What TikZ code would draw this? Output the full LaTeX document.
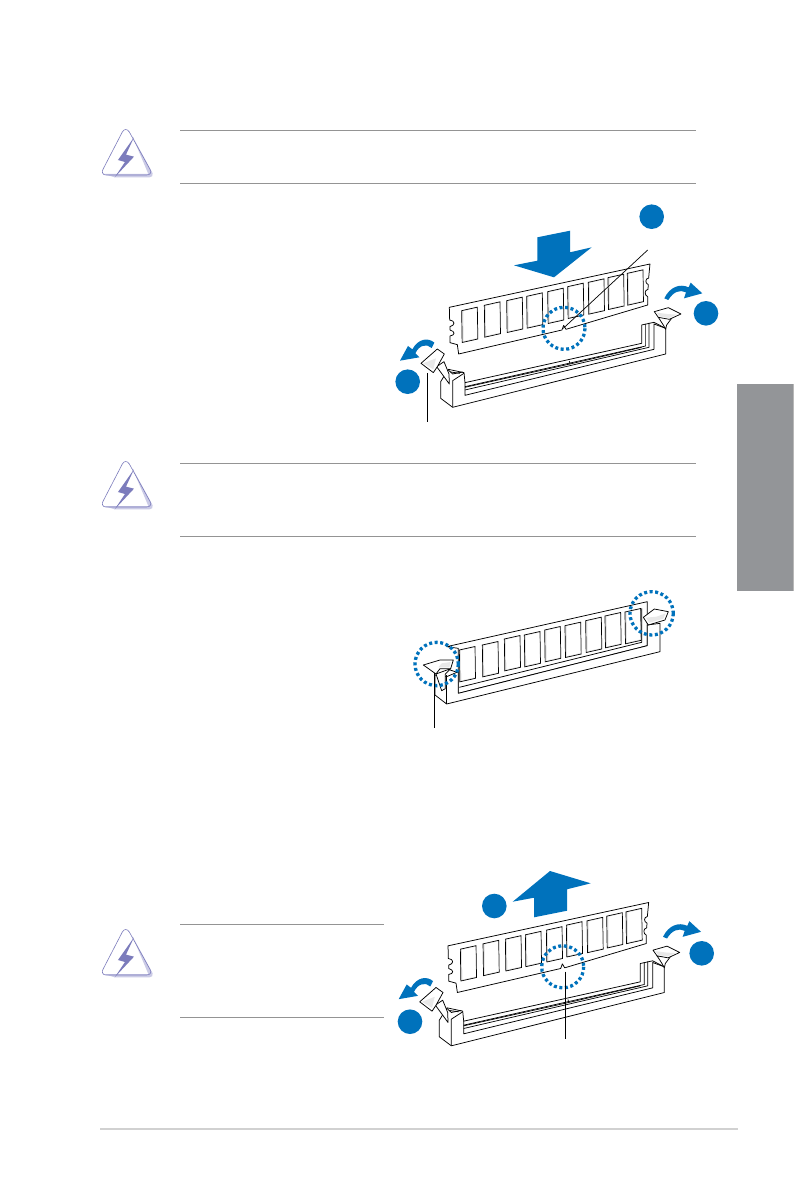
\documentclass[tikz,border=0pt]{standalone}
\usepackage{tikz}
\definecolor{markblue}{HTML}{0072BC}
\definecolor{tabgrey}{HTML}{939598}
\definecolor{warnviolet}{HTML}{7C7CBC}
\definecolor{warnshade}{HTML}{CBCBE6}
\tikzset{x=1pt,y=-1pt}
\tikzset{
    outline/.style={draw=black,line width=.75pt,line join=round},
    ribline/.style={draw=black,line width=.7pt},
    blueshape/.style={fill=markblue,draw=none},
    stepdot/.style={circle,fill=markblue,draw=none,minimum size=24.6pt,inner sep=0pt},
    dotring/.style={draw=markblue,line width=3.3pt,dash pattern=on 3pt off 2.55pt},
    rule/.style={draw=black!42,line width=.9pt},
    leader/.style={draw=black,line width=.7pt},
    warnicon/.pic={
        \scope[x=.3333pt,y=-.3333pt]
            \fill[warnshade] (128,50) -- (188,160) .. controls (190,168) and (185,172) .. (178,172) -- (75,172) -- (40,162) -- (175,162) -- cycle;
            \draw[warnviolet,line width=.6pt,line join=round] (97,36) .. controls (102,26) and (112,26) .. (118,36) -- (180,148) .. controls (186,158) and (180,165) .. (170,165) -- (48,165) .. controls (38,165) and (34,156) .. (39,148) -- cycle;
            \fill[warnviolet] (132,52) -- (84,120) -- (105,126) -- (74,172) -- (132,110) -- (108,104) -- cycle;
        \endscope
    },
    chipcell/.pic={
        \filldraw[ribline,fill=black!10] (0,0) -- (47,-10.5) -- (48.5,85) -- (1.5,95.5) -- cycle;
        \fill[white] (5,2) -- (45,-7) -- (46.5,82) -- (6,91) -- cycle;
    },
    dimmopen/.pic={
        \scope[x=.3333pt,y=-.3333pt]
            % module
            \filldraw[outline,fill=white] (208,352) -- (810,222) -- (806,264) .. controls (795,266) and (795,280) .. (805,284) -- (804,298) .. controls (793,300) and (793,316) .. (803,320) -- (803,345) -- (558,418) -- (551,406) -- (546,420) -- (236,492) -- (232,464) -- (210,458) -- (210,438) .. controls (226,436) and (226,424) .. (210,420) -- (210,410) .. controls (226,406) and (226,392) .. (209,390) -- cycle;
            \foreach \cx/\cy in {245/362,313/346,380/332,440/319,503/305,563/290,625/277,684/263,742/250}
                \pic at (\cx,\cy) {chipcell};
            % slot
            \filldraw[outline,fill=white] (182,575) -- (182,625) -- (218,652) -- (857,492) -- (857,415) -- (822,397) -- (785,405) -- (785,460) -- (255,578) -- (252,548) -- (205,538) -- cycle;
            \draw[outline] (218,652) -- (218,572) -- (252,550);
            \draw[outline] (205,540) -- (218,552) -- (248,546);
            \draw[outline] (212,546) -- (240,550);
            \draw[outline] (255,578) -- (255,616) -- (822,478) -- (822,402) -- (857,415);
            \draw[ribline] (255,590) -- (797,468) -- (797,402);
            \draw[ribline] (255,600) -- (807,472) -- (807,399);
            \draw[ribline] (568,513) -- (570,522) -- (785,472);
            \draw[ribline] (570,522) -- (255,592);
            % latches
            \filldraw[outline,fill=white] (170,530) -- (208,582) -- (207,552) -- (192,515) -- cycle;
            \filldraw[outline,fill=white] (123,520) -- (172,477) -- (193,492) -- (172,530) -- (160,548) -- cycle;
            \fill[black!9] (130,520) -- (168,505) -- (160,538) -- cycle;
            \filldraw[outline,fill=white] (835,382) -- (850,405) -- (857,418) -- (860,405) -- (875,385) -- cycle;
            \filldraw[outline,fill=white] (823,365) -- (865,353) -- (903,372) -- (868,388) -- (835,382) -- cycle;
            \fill[black!9] (830,368) -- (862,372) -- (890,374) -- (866,384) -- (838,379) -- cycle;
            % turning arrows
            \fill[blueshape] (853,325) .. controls (870,290) and (900,280) .. (926,292) -- (932,278) -- (967,310) -- (912,325) -- (918,307) .. controls (900,298) and (880,305) .. (865,330) -- cycle;
            \fill[blueshape] (163,458) .. controls (145,442) and (115,445) .. (97,478) -- (84,468) -- (60,512) -- (118,502) -- (106,490) .. controls (118,465) and (140,460) .. (155,474) -- cycle;
            \draw[dotring] (552,415) circle (63);
        \endscope
    }
}

\begin{document}
\begin{tikzpicture}
    \useasboundingbox (0,0) rectangle (795,1192);
    \fill[white] (0,0) rectangle (795,1192);

    % side tab and footer rule
    \fill[black!28] (793,384) rectangle (794,590.5);
    \fill[tabgrey] (737,384) rectangle (793,590.5);
    \draw[black!18,line width=2pt] (100,1129) -- (738,1129);

    % rules round the notes
    \coordinate (ruleAl) at (180,130.5);
    \coordinate (ruleAr) at (696,130.5);
    \coordinate (ruleBl) at (180,183.5);
    \coordinate (ruleBr) at (696,183.5);
    \coordinate (ruleCl) at (180,463.5);
    \coordinate (ruleCr) at (696,463.5);
    \coordinate (ruleDl) at (180,536.5);
    \coordinate (ruleDr) at (696,536.5);
    \coordinate (ruleEl) at (180,924.5);
    \coordinate (ruleEr) at (384,924.5);
    \coordinate (ruleFl) at (180,1017.5);
    \coordinate (ruleFr) at (384,1017.5);
    \foreach \rl/\rr in {ruleAl/ruleAr,ruleBl/ruleBr,ruleCl/ruleCr,ruleDl/ruleDr,ruleEl/ruleEr,ruleFl/ruleFr}
        \draw[rule] (\rl) -- (\rr);

    \pic at (90,120) {warnicon};
    \pic at (90,452) {warnicon};
    \pic at (90,920) {warnicon};

    % first module
    \pic at (380,190) {dimmopen};
    \fill[blueshape] (537.3,237.3) -- (570,230.7) -- (570,252.3) -- (591.7,247.3) -- (554,277.3) -- (514,265.3) -- (537.3,260.7) -- cycle;
    \node[stepdot] (dotAa) at (651.7,216.7) {};
    \node[stepdot] (dotAb) at (706,313.3) {};
    \node[stepdot] (dotAc) at (407.7,381.7) {};
    \coordinate (leadAa) at (647.7,250);
    \coordinate (leadAb) at (563.3,328.3);
    \coordinate (leadAc) at (427.7,373.3);
    \coordinate (leadAd) at (427.7,421.7);
    \draw[leader] (leadAa) -- (leadAb);
    \draw[leader] (leadAc) -- (leadAd);

    % second module, locked
    \scope[shift={(400,580)},x=.3333pt,y=-.3333pt]
        \filldraw[outline,fill=white] (140,200) -- (742,65) -- (742,197) -- (175,340) -- (175,205) -- cycle;
        \foreach \cx/\cy in {178/210,247/195,313/177,373/165,434/150,495/137,557/122,615/108,675/96}
            \pic at (\cx,\cy) {chipcell};
        \filldraw[outline,fill=white] (105,285) -- (105,345) -- (140,372) -- (780,215) -- (780,130) -- (742,135) -- (742,197) -- (175,340) -- (175,275) -- (140,290) -- cycle;
        \draw[outline] (140,372) -- (140,285);
        \draw[outline] (178,322) -- (725,187) -- (725,85);
        \draw[outline] (150,270) -- (175,278);
        % latches
        \filldraw[outline,fill=white] (108,282) -- (125,332) -- (136,326) -- (136,282) -- (152,266) -- cycle;
        \filldraw[outline,fill=white] (70,255) -- (120,240) -- (160,240) -- (152,266) -- (120,266) -- (108,282) -- cycle;
        \fill[black!9] (115,262) -- (125,250) -- (152,246) -- (148,262) -- cycle;
        \filldraw[outline,fill=white] (730,112) -- (763,87) -- (805,95) -- (795,120) -- (745,135) -- cycle;
        \fill[black!9] (738,113) -- (770,110) -- (797,100) -- (790,116) -- (748,128) -- cycle;
        \draw[dotring] (110,252) circle (65);
        \draw[dotring] (755,100) circle (65);
    \endscope
    \coordinate (leadBa) at (434.3,673.3);
    \coordinate (leadBb) at (434.3,728.3);
    \draw[leader] (leadBa) -- (leadBb);

    % third module
    \pic at (378.7,828.5) {dimmopen};
    \fill[blueshape] (534,917.3) -- (534,897.7) -- (512.7,901.7) -- (550,871) -- (590.7,883.3) -- (567,889.3) -- (567,910.7) -- cycle;
    \node[stepdot] (dotCa) at (494.3,906) {};
    \node[stepdot] (dotCb) at (701.7,953.3) {};
    \node[stepdot] (dotCc) at (410,1021.7) {};
    \coordinate (leadCa) at (565,971.7);
    \coordinate (leadCb) at (565,1039);
    \draw[leader] (leadCa) -- (leadCb);
\end{tikzpicture}
\end{document}
